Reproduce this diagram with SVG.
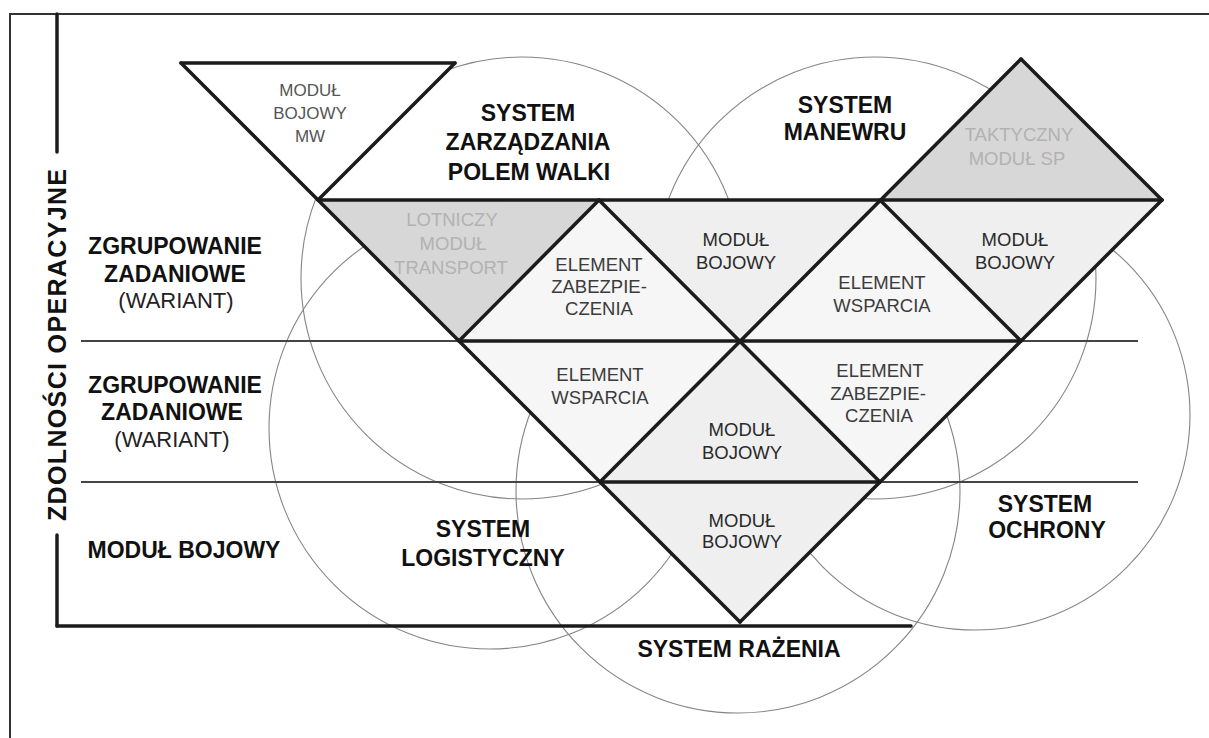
<svg xmlns="http://www.w3.org/2000/svg" width="1209" height="738" viewBox="0 0 1209 738">
<style>
text{font-family:"Liberation Sans",Arial,sans-serif;text-anchor:middle}
.lbl{font-size:23px;font-weight:bold;fill:#111}
.reg{font-size:22px;fill:#222}
.tri{font-size:18.5px;fill:#2a2a2a}
.el{font-size:18.5px;fill:#3c3c3c}
.ghost{font-size:18.5px;fill:#b2b2b2}
.small{font-size:17px;fill:#555}
.circ{fill:none;stroke:#858585;stroke-width:1.1}
.thick{stroke:#1b1b1b;stroke-width:3.5;stroke-linecap:round;fill:none}
.thin{stroke:#444;stroke-width:1.8;fill:none}
.frame{stroke:#333;stroke-width:2;fill:none}
.mod{fill:#efefef}
.elf{fill:#f6f6f6}
.gray{fill:#d7d7d7}
</style>
<rect x="0" y="0" width="1209" height="738" fill="#fff"/>
<g id="frame">
<line class="frame" x1="9" y1="14" x2="1209" y2="14"/>
<line class="frame" x1="10" y1="14" x2="10" y2="738"/>
</g>
<g id="circles">
<circle id="c-zarzadzania" class="circ" cx="522" cy="278" r="221"/>
<circle id="c-manewru" class="circ" cx="875" cy="278" r="221"/>
<circle id="c-ochrony" class="circ" cx="975" cy="415" r="215"/>
<circle id="c-razenia" class="circ" cx="738" cy="491" r="222"/>
<circle id="c-logistyczny" class="circ" cx="490" cy="428" r="221"/>
</g>
<g id="axis">
<line class="thick" x1="57" y1="14" x2="57" y2="152"/>
<line class="thick" x1="57" y1="535" x2="57" y2="626"/>
<line class="thick" x1="57" y1="626" x2="911" y2="626"/>
<text transform="translate(57,345) rotate(-90)" x="0" y="9" font-size="25" font-weight="bold" fill="#111" textLength="352">ZDOLNOŚCI OPERACYJNE</text>
</g>
<g id="node-mw">
<polygon points="181,63 455,63 318,200" fill="#fff"/>
<text class="small" x="310" y="96">MODUŁ</text>
<text class="small" x="310" y="119">BOJOWY</text>
<text class="small" x="310" y="142">MW</text>
</g>
<g id="node-taktyczny">
<polygon class="gray" points="1021,59 1162,200 880,200"/>
<text class="ghost" x="1019" y="141">TAKTYCZNY</text>
<text class="ghost" x="1017" y="165">MODUŁ SP</text>
</g>
<g id="node-lotniczy">
<polygon class="gray" points="318,200 599,200 459,341"/>
<text class="ghost" x="452" y="226">LOTNICZY</text>
<text class="ghost" x="453" y="250">MODUŁ</text>
<text class="ghost" x="451" y="274">TRANSPORT</text>
</g>
<g id="node-element-zab-1">
<polygon class="elf" points="599,200 740,341 459,341"/>
<text class="el" x="599" y="271">ELEMENT</text>
<text class="el" x="599" y="293">ZABEZPIE-</text>
<text class="el" x="599" y="315">CZENIA</text>
</g>
<g id="node-modul-1">
<polygon class="mod" points="599,200 880,200 740,341"/>
<text class="tri" x="736" y="246">MODUŁ</text>
<text class="tri" x="736" y="269">BOJOWY</text>
</g>
<g id="node-element-wsp-1">
<polygon class="elf" points="880,200 1021,341 740,341"/>
<text class="el" x="882" y="289">ELEMENT</text>
<text class="el" x="882" y="312">WSPARCIA</text>
</g>
<g id="node-modul-2">
<polygon class="mod" points="880,200 1162,200 1021,341"/>
<text class="tri" x="1015" y="246">MODUŁ</text>
<text class="tri" x="1015" y="269">BOJOWY</text>
</g>
<g id="node-element-wsp-2">
<polygon class="elf" points="459,341 740,341 600,482"/>
<text class="el" x="600" y="381">ELEMENT</text>
<text class="el" x="600" y="404">WSPARCIA</text>
</g>
<g id="node-modul-3">
<polygon class="mod" points="740,341 880,482 600,482"/>
<text class="tri" x="742" y="436">MODUŁ</text>
<text class="tri" x="742" y="459">BOJOWY</text>
</g>
<g id="node-element-zab-2">
<polygon class="elf" points="740,341 1021,341 880,482"/>
<text class="el" x="880" y="377">ELEMENT</text>
<text class="el" x="878" y="400">ZABEZPIE-</text>
<text class="el" x="879" y="422">CZENIA</text>
</g>
<g id="node-modul-4">
<polygon class="mod" points="600,482 880,482 740,622"/>
<text class="tri" x="742" y="527">MODUŁ</text>
<text class="tri" x="742" y="548">BOJOWY</text>
</g>
<g id="connectors">
<line class="thin" x1="81" y1="341" x2="1138" y2="341"/>
<line class="thin" x1="81" y1="482" x2="1138" y2="482"/>
<line class="thick" x1="459" y1="341" x2="1021" y2="341"/>
<line class="thick" x1="600" y1="482" x2="880" y2="482"/>
<line class="thick" x1="181" y1="63" x2="455" y2="63"/>
<line class="thick" x1="318" y1="200" x2="1162" y2="200"/>
<line class="thick" x1="181" y1="63" x2="740" y2="622"/>
<line class="thick" x1="1162" y1="200" x2="740" y2="622"/>
<line class="thick" x1="455" y1="63" x2="318" y2="200"/>
<line class="thick" x1="599" y1="200" x2="459" y2="341"/>
<line class="thick" x1="1021" y1="59" x2="600" y2="482"/>
<line class="thick" x1="1021" y1="59" x2="1162" y2="200"/>
<line class="thick" x1="599" y1="200" x2="880" y2="482"/>
<line class="thick" x1="880" y1="200" x2="1021" y2="341"/>
</g>
<g id="labels">
<text class="lbl" x="528" y="121">SYSTEM</text>
<text class="lbl" x="528" y="150">ZARZĄDZANIA</text>
<text class="lbl" x="529" y="180">POLEM WALKI</text>
<text class="lbl" x="845" y="113">SYSTEM</text>
<text class="lbl" x="845" y="140">MANEWRU</text>
<text class="lbl" x="175" y="254">ZGRUPOWANIE</text>
<text class="lbl" x="175" y="282">ZADANIOWE</text>
<text class="reg" x="176" y="308">(WARIANT)</text>
<text class="lbl" x="175" y="393">ZGRUPOWANIE</text>
<text class="lbl" x="172" y="420">ZADANIOWE</text>
<text class="reg" x="172" y="447">(WARIANT)</text>
<text class="lbl" x="184" y="558">MODUŁ BOJOWY</text>
<text class="lbl" x="483" y="537">SYSTEM</text>
<text class="lbl" x="483" y="566">LOGISTYCZNY</text>
<text class="lbl" x="739" y="657">SYSTEM RAŻENIA</text>
<text class="lbl" x="1045" y="512">SYSTEM</text>
<text class="lbl" x="1047" y="538">OCHRONY</text>
</g>
</svg>
